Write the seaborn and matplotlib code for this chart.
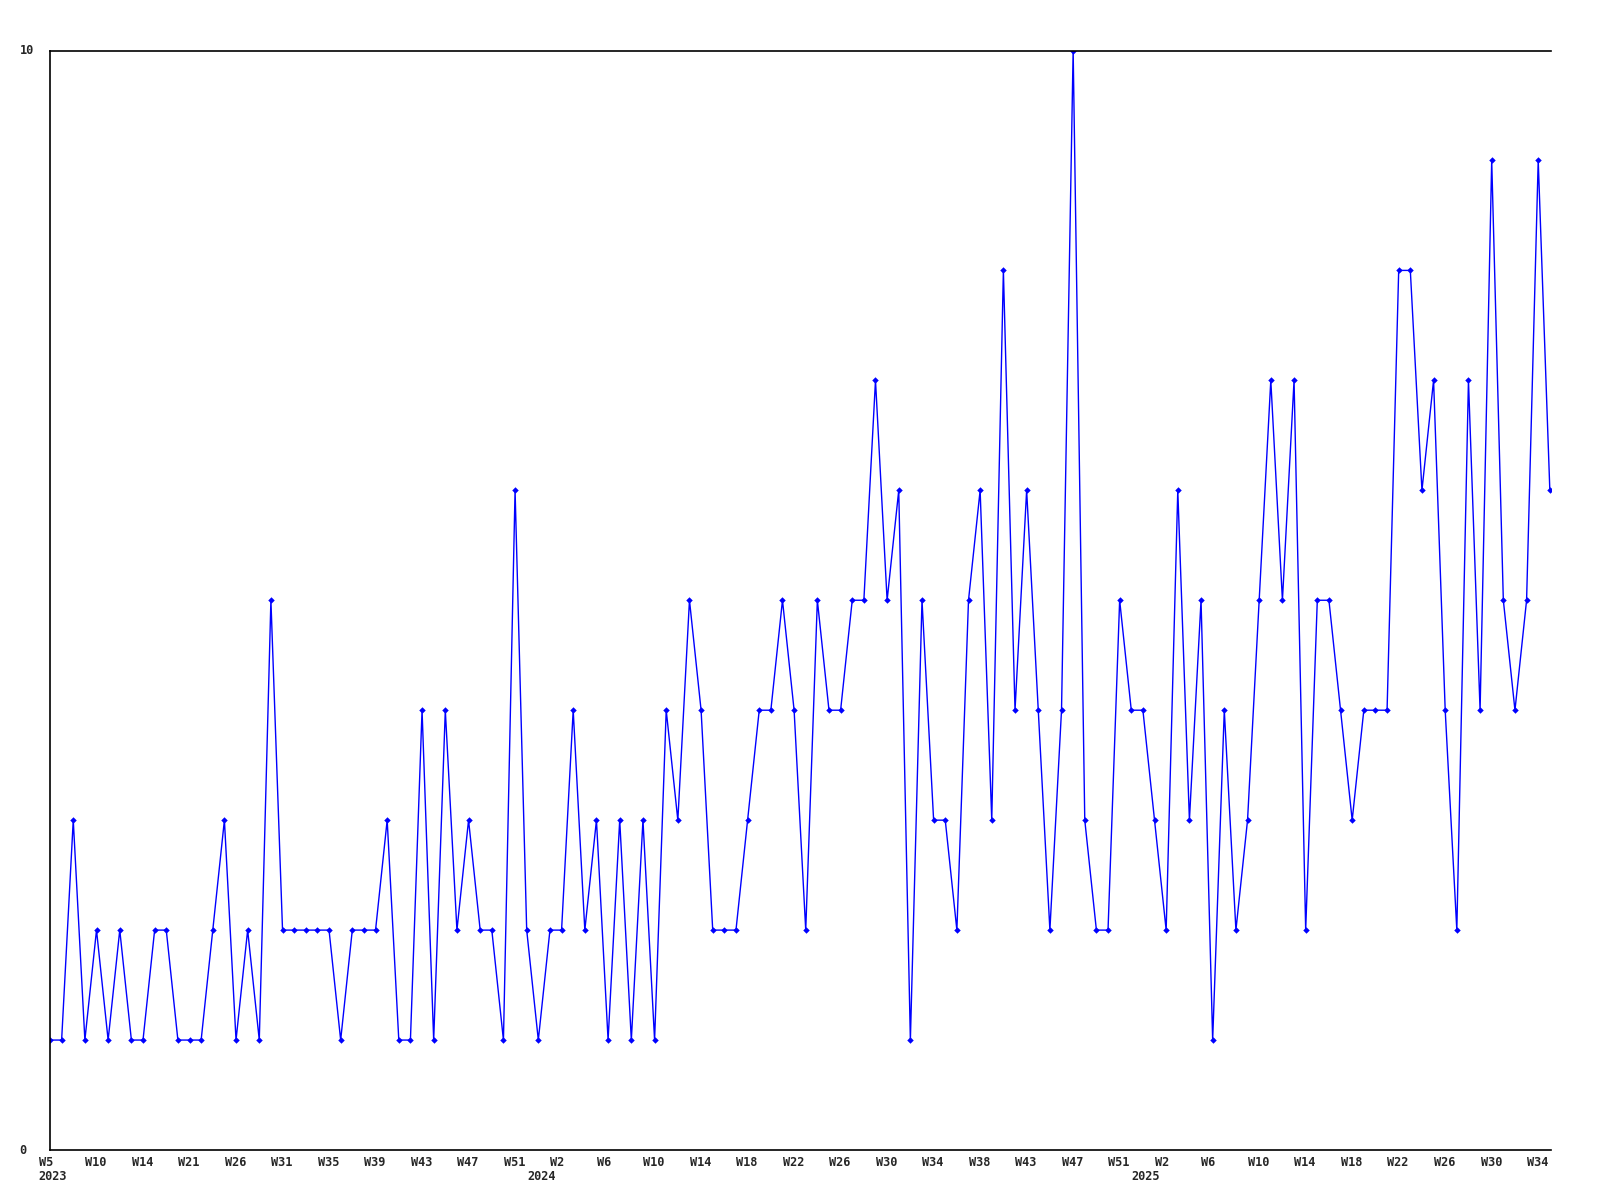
import matplotlib
matplotlib.use("Agg")
import matplotlib.pyplot as plt
import seaborn as sns
import pandas as pd

values = [1, 1, 3, 1, 2, 1, 2, 1, 1, 2, 2, 1, 1, 1, 2, 3, 1, 2, 1, 5,
          2, 2, 2, 2, 2, 1, 2, 2, 2, 3, 1, 1, 4, 1, 4, 2, 3, 2, 2, 1,
          6, 2, 1, 2, 2, 4, 2, 3, 1, 3, 1, 3, 1, 4, 3, 5, 4, 2, 2, 2,
          3, 4, 4, 5, 4, 2, 5, 4, 4, 5, 5, 7, 5, 6, 1, 5, 3, 3, 2, 5,
          6, 3, 8, 4, 6, 4, 2, 4, 10, 3, 2, 2, 5, 4, 4, 3, 2, 6, 3, 5,
          1, 4, 2, 3, 5, 7, 5, 7, 2, 5, 5, 4, 3, 4, 4, 4, 8, 8, 6, 7,
          4, 2, 7, 4, 9, 5, 4, 5, 9, 6]

week_labels = ["W5", "W10", "W14", "W21", "W26", "W31", "W35", "W39", "W43", "W47", "W51",
               "W2", "W6", "W10", "W14", "W18", "W22", "W26", "W30", "W34", "W38", "W43",
               "W47", "W51", "W2", "W6", "W10", "W14", "W18", "W22", "W26", "W30", "W34"]
year_labels = ["2023", "2024", "2025"]
year_positions = [0, 42, 94]

df = pd.DataFrame({"idx": list(range(len(values))), "count": values})

sns.set_style("white")
plt.rcParams['font.family'] = ['DejaVu Sans Mono', 'DejaVu Sans']

W, H = 1600, 1200
L, R, T, B = 50.0, 1551.0, 50.5, 1150.0
fig = plt.figure(figsize=(16, 12), dpi=100)
ax = fig.add_axes([L / W, (H - B) / H, (R - L) / W, (B - T) / H])

sns.lineplot(data=df, x="idx", y="count", ax=ax, color="#0000ff", linewidth=1,
             marker="D", markersize=3.3, markeredgewidth=0, errorbar=None)

ax.set_xlim(0, len(values) - 1 + 0.1)
ax.set_ylim(0, 10)
ax.set_xticks([])
ax.set_yticks([])
ax.set_xlabel("")
ax.set_ylabel("")
for s in ["left", "top", "bottom"]:
    ax.spines[s].set_visible(True)
    ax.spines[s].set_color("black")
    ax.spines[s].set_linewidth(1.2)
ax.spines["right"].set_visible(False)

fs = 8.6
for i, lab in enumerate(week_labels):
    ax.annotate(lab, xy=(i * 4, 0), xycoords=("data", "axes fraction"),
                xytext=(-11.2, -12.3), textcoords="offset pixels",
                ha="left", va="center", fontsize=fs, fontweight="bold")
for pos, lab in zip(year_positions, year_labels):
    ax.annotate(lab, xy=(pos, 0), xycoords=("data", "axes fraction"),
                xytext=(-11.2, -26.5), textcoords="offset pixels",
                ha="left", va="center", fontsize=fs, fontweight="bold")

fig.text(20.3 / W, 1 - T / H, "10", ha="left", va="center", fontsize=fs, fontweight="bold")
fig.text(19.5 / W, 1 - B / H, "0", ha="left", va="center", fontsize=fs, fontweight="bold")

fig.savefig("out.png", dpi=100, facecolor="white")
